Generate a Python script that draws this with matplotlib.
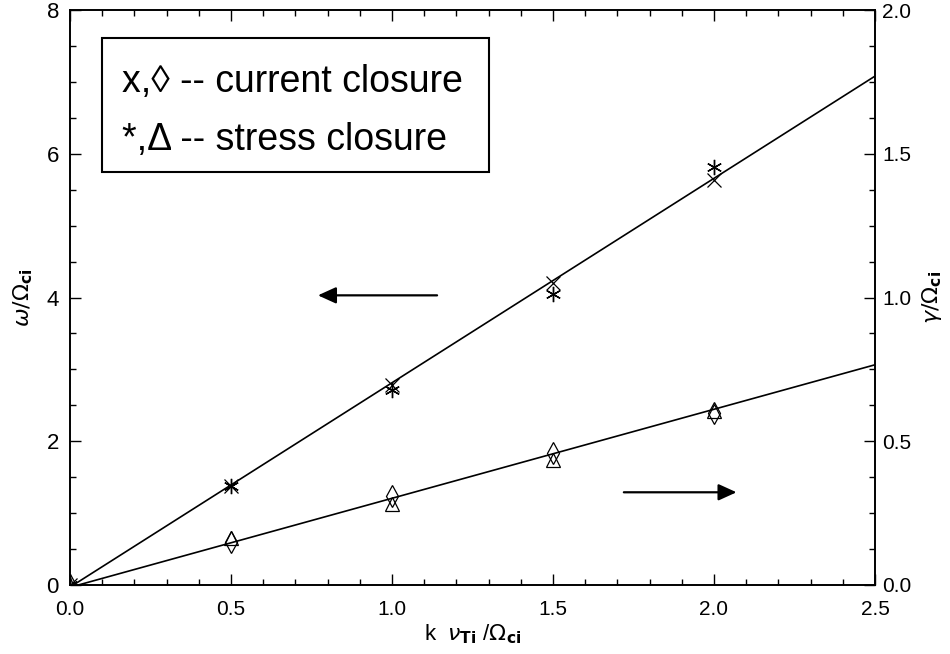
import numpy as np
import matplotlib
matplotlib.use("Agg")
import matplotlib.pyplot as plt
from matplotlib.patches import Rectangle

plt.rcParams['font.family'] = ['Liberation Sans', 'DejaVu Sans']
plt.rcParams['mathtext.fontset'] = 'dejavusans'

# --- data ---
k = [0.0, 0.5, 1.0, 1.5, 2.0]
# real frequency (left axis)
omega_current = [0.0, 1.38, 2.78, 4.20, 5.63]
omega_stress = [0.0, 1.38, 2.71, 4.05, 5.82]
# growth rate (right axis)
gamma_current = [0.0, 0.150, 0.310, 0.460, 0.600]
gamma_stress = [0.0, 0.163, 0.282, 0.436, 0.606]
# straight fit lines
k_line = [0.0, 2.5]
omega_line = [-0.03, 7.08]
gamma_line = [-0.008, 0.766]

fig = plt.figure(figsize=(9.5, 6.54), dpi=100)
ax = fig.add_axes([70 / 950, 69 / 654, 805 / 950, 575 / 654])
ax2 = ax.twinx()

ax.plot(k_line, omega_line, color='black', lw=1.2)
ax.plot(k, omega_current, ls='none', marker='x', ms=10, mew=0.9, color='black')
ax.plot(k, omega_stress, ls='none', marker=(6, 2, 0), ms=11, mew=1.0, color='black')

ax2.plot(k_line, gamma_line, color='black', lw=1.2)
ax2.plot(k, gamma_current, ls='none', marker='d', ms=11, mew=0.9,
         mfc='none', mec='black')
ax2.plot(k, gamma_stress, ls='none', marker='^', ms=10, mew=0.9,
         mfc='none', mec='black')

ax.set_xlim(0, 2.5)
ax.set_ylim(0, 8)
ax2.set_ylim(0, 2)

ax.set_xticks(np.arange(0, 2.51, 0.5))
ax.set_xticks(np.arange(0, 2.51, 0.1), minor=True)
ax.set_yticks([0, 2, 4, 6, 8])
ax.set_yticks(np.arange(0, 8.01, 0.5), minor=True)
ax2.set_yticks(np.arange(0, 2.01, 0.5))
ax2.set_yticks(np.arange(0, 2.01, 0.125), minor=True)

ax.xaxis.set_major_formatter(matplotlib.ticker.FormatStrFormatter('%.1f'))
ax2.yaxis.set_major_formatter(matplotlib.ticker.FormatStrFormatter('%.1f'))
ax.yaxis.set_major_formatter(matplotlib.ticker.FormatStrFormatter('%d'))

ax.tick_params(axis='x', which='both', direction='in', top=True, bottom=True,
               labelsize=15, pad=11)
ax.tick_params(axis='y', which='both', direction='in', left=True, right=False,
               labelsize=16, pad=8)
ax2.tick_params(axis='y', which='both', direction='in', right=True,
                labelsize=15, pad=5)
for a in (ax, ax2):
    a.tick_params(which='major', length=8, width=1.0)
    a.tick_params(which='minor', length=4.5, width=1.0)
    for s in a.spines.values():
        s.set_linewidth(1.2)

ax.set_xlabel(r'k  $\nu_{\mathbf{Ti}}$ /$\Omega_{\mathbf{ci}}$', fontsize=16, labelpad=2)
ax.set_ylabel(r'$\omega/\Omega_{\mathbf{ci}}$', fontsize=16, labelpad=8)
ax2.set_ylabel(r'$\gamma/\Omega_{\mathbf{ci}}$', fontsize=16, labelpad=6)

# legend box drawn by hand, like the original
ax.add_patch(Rectangle((0.04, 0.718), 0.48, 0.233, transform=ax.transAxes,
                       fill=False, lw=1.5, color='black', zorder=5))
ax.text(0.064, 0.875, 'x,\u25ca -- current closure', transform=ax.transAxes,
        fontsize=27, va='center', ha='left')
ax.text(0.064, 0.774, '*,\u0394 -- stress closure', transform=ax.transAxes,
        fontsize=27, va='center', ha='left')

# arrows pointing at the axis each line belongs to
arrow = dict(arrowstyle='-|>,head_length=1.1,head_width=0.5', color='black',
             lw=1.6, shrinkA=0, shrinkB=0)
ax.annotate('', xy=(0.77, 4.03), xytext=(1.14, 4.03), arrowprops=arrow)
ax.annotate('', xy=(2.07, 1.29), xytext=(1.72, 1.29), arrowprops=arrow)

fig.savefig('out.png', dpi=100)
